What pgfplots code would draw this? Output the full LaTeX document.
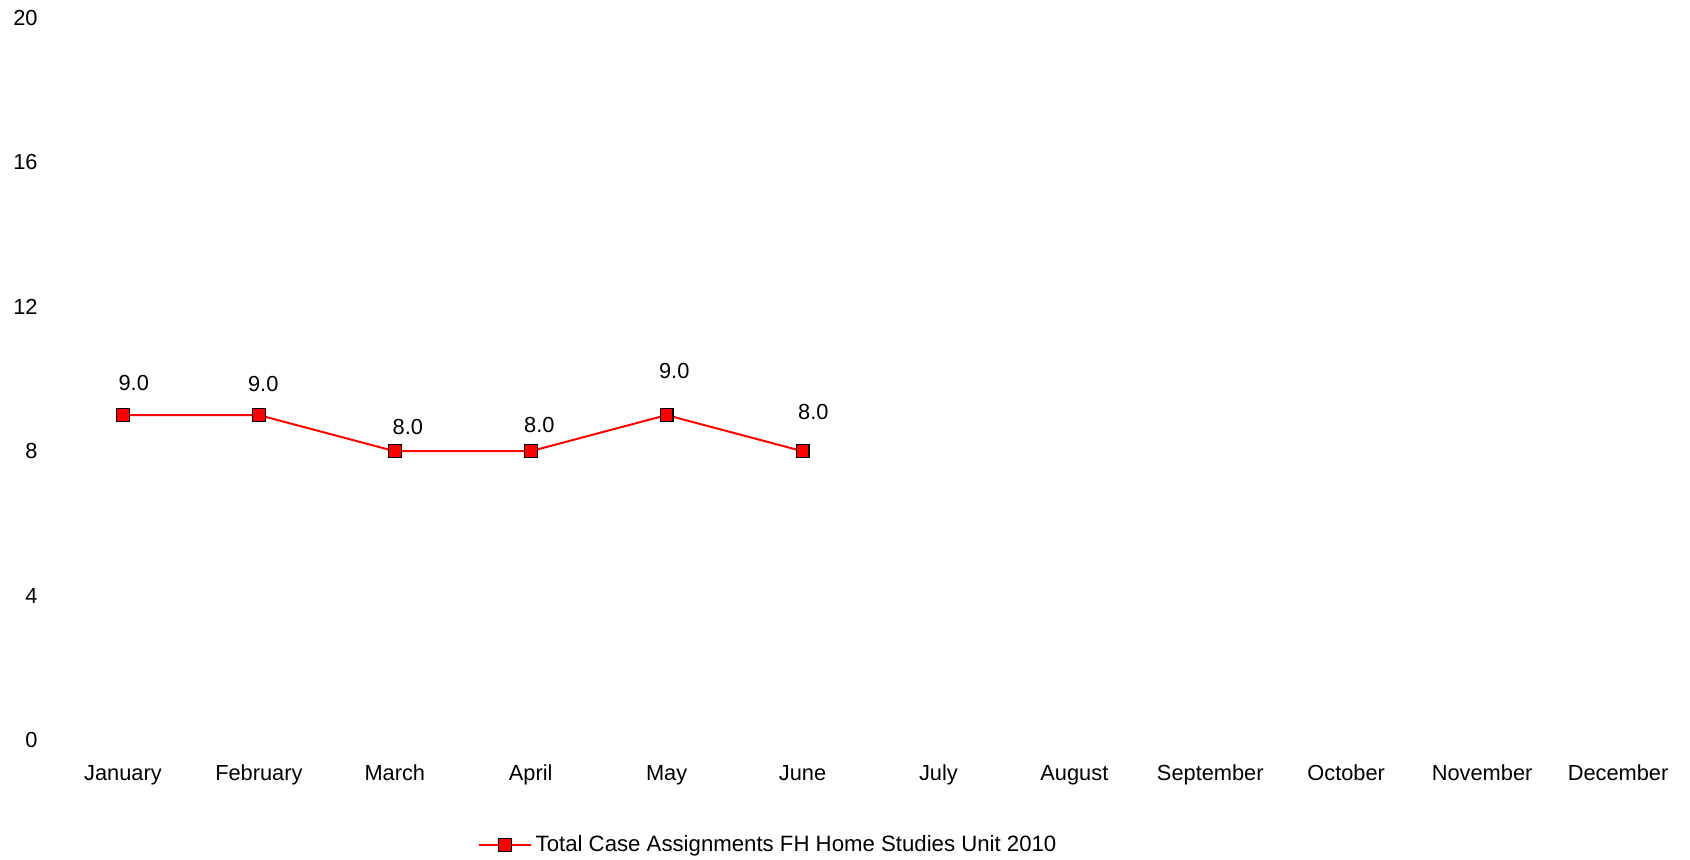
\documentclass[border=0pt]{standalone}
\usepackage{pgfplots}
\pgfplotsset{compat=1.18}
\usepackage{pgfplotstable}
\usepackage{fontspec}
\setmainfont{Liberation Sans}

% month index, value, label offsets (pt)
\pgfplotstableread{
x y dx dy
0 9 5.4 16.2
1 9 2.2 15.6
2 8 6.5 11.9
3 8 4.3 12.9
4 9 3.8 22.1
5 8 5.4 19.4
}\casetable

\begin{document}
\begin{tikzpicture}
  \begin{axis}[
    scale only axis,
    width=815.5pt, height=361pt,
    xmin=-0.5, xmax=11.5,
    ymin=0, ymax=20,
    ytick={0,4,...,20},
    xtick={0,...,11},
    xticklabels={January,February,March,April,May,June,July,August,September,October,November,December},
    axis line style={draw=none},
    major tick length=0pt,
    /pgf/number format/assume math mode=true,
    tick label style={font=\fontsize{10.9}{12}\selectfont},
    yticklabel style={anchor=east, inner sep=0pt, xshift=-8.5pt},
    xticklabel style={anchor=base, inner sep=0pt, yshift=-20.5pt},
    legend style={
      at={(0.4378,-0.1455)}, anchor=center,
      draw=none, fill=none, inner sep=0pt,
      font=\fontsize{11.1}{12}\selectfont
    },
    legend image code/.code={
      \draw[mark repeat=2, mark phase=2, #1]
        plot coordinates {(0pt,0pt) (13pt,0pt) (26pt,0pt)};
    },
  ]
    \addplot[
      red, line width=1pt,
      mark=square*, mark size=3.2pt,
      mark options={fill=red, draw=black, line width=0.6pt},
      point meta=y,
      visualization depends on={\thisrow{dx} \as \dx},
      visualization depends on={\thisrow{dy} \as \dy},
      nodes near coords={\pgfmathprintnumber[fixed,zerofill,precision=1]{\pgfplotspointmeta}},
      nodes near coords style={anchor=center, text=black,
        xshift=\dx pt, yshift=\dy pt,
        font=\fontsize{10.9}{12}\selectfont},
    ] table[x=x, y=y] {\casetable};
    \addlegendentry{Total Case Assignments FH Home Studies Unit 2010}
  \end{axis}
  \pgfresetboundingbox
  \path[use as bounding box] (-27.5pt,-60pt) rectangle (817.5pt,370pt);
\end{tikzpicture}
\end{document}
